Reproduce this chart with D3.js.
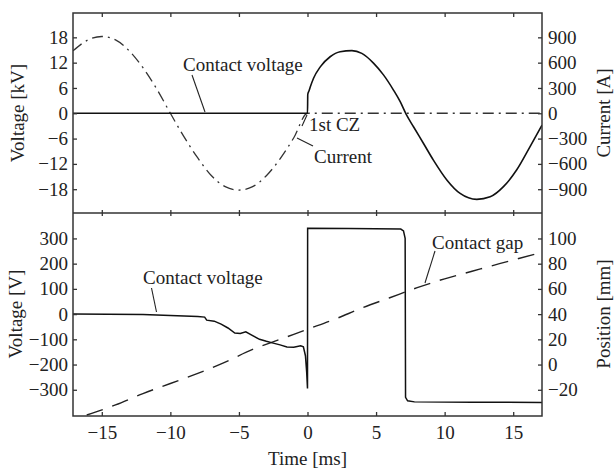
<!DOCTYPE html>
<html>
<head>
<meta charset="utf-8">
<script src="https://cdn.jsdelivr.net/npm/d3@7"></script>
<style>
  body { margin: 0; background: #fff; }
  text { font-family: "Liberation Serif", "DejaVu Serif", serif; fill: #222; }
</style>
</head>
<body>
<script>
// data
const xTicks = [-15, -10, -5, 0, 5, 10, 15];
const kvTicks = [-18, -12, -6, 0, 6, 12, 18];
const ampTicks = [-900, -600, -300, 0, 300, 600, 900];
const vTicks = [-300, -200, -100, 0, 100, 200, 300];
const mmTicks = [-20, 0, 20, 40, 60, 80, 100];

// top panel: contact voltage [kV] (t ms, kV)
const topVoltage = [
  [-17.1, 0], [0, 0], [0.02, 4.5], [0.12, 5.4], [0.2, 6.2], [0.44, 8.3], [0.93, 11.0],
  [1.65, 13.4], [2.38, 14.6], [3.24, 14.85], [3.96, 14.2], [4.81, 11.9],
  [5.54, 9.1], [6.27, 5.5], [6.76, 2.75], [7.19, -0.2], [7.73, -3.2],
  [8.45, -7.1], [9.18, -11.1], [10.16, -15.8], [11.13, -19.0], [12.35, -20.4],
  [13.32, -19.8], [14.29, -17.4], [15.26, -13.4], [16.23, -7.9], [17.1, -2.8]
];
// top panel: current [A]
const current = [
  [-17.1, 740], [-16, 870], [-15, 910], [-14, 870], [-13, 740], [-12, 540],
  [-11, 290], [-10, 0], [-9, -280], [-8, -530], [-7, -740], [-6, -870],
  [-5, -910], [-4, -870], [-3, -740], [-2, -540], [-1, -290], [0, 0], [17.1, 0]
];
// bottom panel: contact voltage [V]
const arcVoltage = [
  [-17.1, 0], [-12, -2], [-10, -6], [-8, -10], [-7.5, -12], [-7.35, -24],
  [-6.8, -28], [-6.3, -40], [-5.8, -55], [-5.3, -75], [-4.9, -77], [-4.5, -70],
  [-4, -85], [-3.5, -100], [-3, -108], [-2.5, -115], [-2, -122], [-1.5, -130],
  [-1, -131], [-0.5, -126], [-0.3, -130], [-0.15, -165], [-0.06, -230],
  [0, -295], [0.01, 340], [3, 339], [6.8, 337], [7.0, 330], [7.12, 300],
  [7.15, -330], [7.3, -344], [7.8, -348], [12, -349], [17.1, -350]
];
// bottom panel: contact gap [mm]
const gap = [
  [-16.1, -40], [-14, -32], [-12, -23], [-10, -15], [-8, -7], [-6, 2],
  [-4, 12], [-2, 20], [0, 28], [2, 36], [4, 45], [6, 53], [8, 61],
  [10, 68], [12, 74], [14, 80], [17.1, 89]
];

const width = 614, height = 471;
const L = 73, R = 542, T = 13, M = 213, B = 416;
const fs = "19px";

const svg = d3.select("body").append("svg")
  .attr("width", width)
  .attr("height", height);

const x = d3.scaleLinear().domain([-17.1, 17.1]).range([L, R]);
const yKv = d3.scaleLinear().domain([-23.64, 23.77]).range([M, T]);
const yA = d3.scaleLinear().domain([-1182, 1188.5]).range([M, T]);
const yV = d3.scaleLinear().domain([-404, 400.8]).range([B, M]);
const yMm = d3.scaleLinear().domain([-40.8, 120.2]).range([B, M]);

const fmt = d3.format("d");
const axisColor = "#333";

function styleAxis(g) {
  g.select(".domain").remove();
  g.selectAll(".tick line").attr("stroke", axisColor).attr("stroke-width", 1.3);
  g.selectAll(".tick text").style("font-size", fs).attr("fill", "#222");
}

// clip paths
svg.append("clipPath").attr("id", "clipTop")
  .append("rect").attr("x", L).attr("y", T).attr("width", R - L).attr("height", M - T);
svg.append("clipPath").attr("id", "clipBot")
  .append("rect").attr("x", L).attr("y", M).attr("width", R - L).attr("height", B - M);

// curves
const lineTop = d3.line().x(d => x(d[0])).y(d => yKv(d[1])).curve(d3.curveMonotoneX);
const lineA = d3.line().x(d => x(d[0])).y(d => yA(d[1])).curve(d3.curveMonotoneX);
const lineV = d3.line().x(d => x(d[0])).y(d => yV(d[1]));
const lineMm = d3.line().x(d => x(d[0])).y(d => yMm(d[1])).curve(d3.curveMonotoneX);

const gt = svg.append("g").attr("clip-path", "url(#clipTop)");
gt.append("path").datum(current)
  .attr("d", lineA).attr("fill", "none").attr("stroke", "#333")
  .attr("stroke-width", 1.3).attr("stroke-dasharray", "11,5,2,5");
gt.append("path").datum(topVoltage)
  .attr("d", lineTop).attr("fill", "none").attr("stroke", "#111")
  .attr("stroke-width", 1.6);

const gb = svg.append("g").attr("clip-path", "url(#clipBot)");
gb.append("path").datum(gap)
  .attr("d", lineMm).attr("fill", "none").attr("stroke", "#222")
  .attr("stroke-width", 1.4).attr("stroke-dasharray", "17,10");
gb.append("path").datum(arcVoltage)
  .attr("d", lineV).attr("fill", "none").attr("stroke", "#111")
  .attr("stroke-width", 1.5);

// axes
svg.append("g").attr("transform", `translate(0,${T})`)
  .call(d3.axisBottom(x).tickValues(xTicks).tickSize(4).tickFormat(""))
  .call(styleAxis);
svg.append("g").attr("transform", `translate(0,${M})`)
  .call(d3.axisTop(x).tickValues(xTicks).tickSize(3).tickFormat(""))
  .call(styleAxis);
svg.append("g").attr("transform", `translate(0,${M})`)
  .call(d3.axisBottom(x).tickValues(xTicks).tickSize(3).tickFormat(""))
  .call(styleAxis);
svg.append("g").attr("transform", `translate(0,${B})`)
  .call(d3.axisTop(x).tickValues(xTicks).tickSize(4).tickFormat(""))
  .call(styleAxis);
svg.append("g").attr("transform", `translate(0,${B})`)
  .call(d3.axisBottom(x).tickValues(xTicks).tickSize(0).tickPadding(10).tickFormat(fmt))
  .call(styleAxis);

svg.append("g").attr("transform", `translate(${L},0)`)
  .call(d3.axisLeft(yKv).tickValues(kvTicks).tickSize(-4).tickPadding(5).tickFormat(fmt))
  .call(styleAxis);
svg.append("g").attr("transform", `translate(${L},0)`)
  .call(d3.axisLeft(yV).tickValues(vTicks).tickSize(-4).tickPadding(5).tickFormat(fmt))
  .call(styleAxis);
svg.append("g").attr("transform", `translate(${R},0)`)
  .call(d3.axisRight(yA).tickValues(ampTicks).tickSize(-4).tickPadding(6).tickFormat(fmt))
  .call(styleAxis);
svg.append("g").attr("transform", `translate(${R},0)`)
  .call(d3.axisRight(yMm).tickValues(mmTicks).tickSize(-4).tickPadding(6).tickFormat(fmt))
  .call(styleAxis);

// frames
svg.append("rect").attr("x", L).attr("y", T).attr("width", R - L).attr("height", B - T)
  .attr("fill", "none").attr("stroke", axisColor).attr("stroke-width", 1.5);
svg.append("line").attr("x1", L).attr("x2", R).attr("y1", M).attr("y2", M)
  .attr("stroke", axisColor).attr("stroke-width", 1.5);

// axis titles
function vTitle(txt, cx, cy, rot) {
  svg.append("text").attr("transform", `translate(${cx},${cy}) rotate(${rot})`)
    .attr("text-anchor", "middle").attr("dominant-baseline", "central")
    .style("font-size", fs).text(txt);
}
vTitle("Voltage [kV]", 17, 113, -90);
vTitle("Voltage [V]", 15, 314, -90);
vTitle("Current [A]", 603, 113, -90);
vTitle("Position [mm]", 603, 314, -90);
svg.append("text").attr("x", (L + R) / 2).attr("y", 465)
  .attr("text-anchor", "middle").style("font-size", fs).text("Time [ms]");

// annotations
function note(txt, tx, ty, x1, y1, x2, y2) {
  svg.append("text").attr("x", tx).attr("y", ty).style("font-size", fs).text(txt);
  svg.append("line").attr("x1", x1).attr("y1", y1).attr("x2", x2).attr("y2", y2)
    .attr("stroke", "#222").attr("stroke-width", 1.1);
}
note("Contact voltage", 183, 71, 192, 75, 205, 112);
note("1st CZ", 309, 131, 302, 126, 307, 115);
note("Current", 314, 163, 297, 138, 313, 146);
note("Contact voltage", 143, 284, 151.5, 288, 156.5, 312);
note("Contact gap", 432, 249, 435, 251, 425, 283);
</script>
</body>
</html>
